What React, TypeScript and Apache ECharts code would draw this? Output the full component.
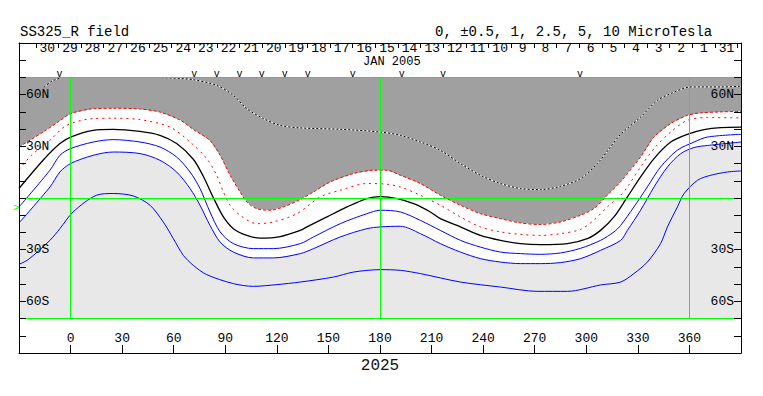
import React, { useEffect, useRef } from "react";
import * as echarts from "echarts";

const FONT = '"Liberation Mono", "DejaVu Sans Mono", monospace';

// axes
const LON_MIN = -30;
const LON_MAX = 390;
const LAT_MIN = -90;
const LAT_MAX = 90;
const MAP_LAT = 70;
const LON_LABEL_MIN = 0;
const LON_LABEL_MAX = 360;
const LAT_LABEL_VALUES = [60, 30, -30, -60];
const LAT_LABEL_TEXTS = ["60N", "30N", "30S", "60S"];

// green reference lines
const GRID_LONS = [0, 180, 360];
const GRID_LATS = [70, 0, -70];

// top day scale (Carrington rotation 2025, Jan 2005)
const DAY_LABELS = ["30", "29", "28", "27", "26", "25", "24", "23", "22", "21", "20", "19", "18", "17", "16", "15",
  "14", "13", "12", "11", "10", "9", "8", "7", "6", "5", "4", "3", "2", "1", "31"];
const DAY_START_OFFSETS = [29, 28, 27, 26, 25, 24, 23, 22, 21, 20, 19, 18, 17, 16, 15, 14,
  13, 12, 11, 10, 9, 8, 7, 6, 5, 4, 3, 2, 1, 0, -1];
const JAN1_LON = 375.0;
const DEG_PER_DAY = 13.17;

// observation marks along top, Earth latitude marker
const OBS_MARK_LONS = [-6.5, 72, 85, 98.3, 111.2, 124.6, 138, 164.2, 192.7, 216.6, 296.4];
const OBS_MARK_LAT = 71.6;
const EARTH_MARK = [-31.6, -5.8];

// contours [lon, lat]
const POS_1 = [[-30, 29.6], [-16, 38.3], [-6, 45], [0, 49], [13, 51.8], [25, 52.1], [40, 51.7], [52, 49.9], [64, 45.1],
  [71.4, 39.8], [81, 33.5], [87, 24.8], [92.8, 13.2], [98.6, 3.5], [102.5, -2.3], [108.3, -6.2], [116, -7.1],
  [123.8, -5.2], [133.6, -0.9], [141.3, 3.5], [151, 9.3], [164.6, 14.2], [176.3, 16.1], [184.1, 16.1], [191.8, 13.2],
  [203.5, 8.4], [215.1, 1.6], [226.8, -4.2], [238.4, -9.1], [250.1, -12], [261.7, -14.5], [273.4, -15.4], [285, -13.9],
  [296.7, -10], [304.4, -6.2], [312.2, 1.6], [320, 9.5], [331.6, 23.8], [339.4, 35.4], [349.1, 43.2], [358.8, 48],
  [366.6, 49.4], [378.3, 50], [390, 50.3]];

const POS_05 = [[-30, 16.5], [-22.7, 24.8], [-12, 33.5], [-2.3, 42.2], [13.2, 46.1], [24.8, 46.3], [40.4, 45.5],
  [57.8, 41.2], [69.5, 32.5], [79.2, 22.9], [85, 13.2], [88.9, 3.5], [92.8, -4.2], [98.6, -10], [108.3, -14.9],
  [118, -13.9], [131.6, -9.1], [145.2, 0.6], [156.9, 4.5], [172.4, 8.4], [184.1, 8], [191.8, 6.4], [203.5, 1.6],
  [215.1, -4.2], [226.8, -11], [238.4, -16.8], [250.1, -19.7], [261.7, -21.1], [273.4, -21.7], [285, -20.7],
  [296.7, -18.2], [304.4, -12.9], [312.2, -5.2], [320, 1.6], [323.9, 6.4], [331.6, 18], [339.4, 28.7], [349.1, 38.3],
  [358.8, 45.1], [370.5, 46.7], [390, 46.5]];

const NEUTRAL = [[-30, 5.5], [-16, 21.9], [-6.2, 31.6], [0, 35.4], [13.2, 39.3], [24.8, 39.9], [40.4, 38.7], [52, 36.4],
  [61.7, 31.6], [71.4, 22.5], [77.2, 12.6], [83.1, 0.1], [88.9, -11], [94.7, -17.8], [102.5, -21.7], [110.3, -23.3],
  [121.9, -22.4], [133.6, -18.8], [137.5, -16.8], [149.1, -11], [160.8, -5.2], [172.4, -0.3], [180.2, 0.8], [190, -0.3],
  [199.6, -3.3], [209.3, -8.1], [215.1, -12], [226.8, -16.8], [238.4, -21.7], [250.1, -24.6], [261.7, -26.5],
  [273.4, -27.1], [289, -26.5], [300.6, -23.6], [308.3, -18.8], [316.1, -11], [323.9, 0.6], [331.6, 12.2],
  [339.4, 22.9], [349.1, 32.5], [358.8, 37], [368.5, 39.7], [378.3, 40.9], [390, 41.2]];

const NEG_05 = [[-30, -5.2], [-12, 16.1], [-6.2, 24.8], [0, 28.7], [13.2, 32.5], [24.8, 33.9], [40.4, 32.5], [52, 29.6],
  [61.7, 23.8], [69.5, 15.1], [75.3, 5.5], [81.1, -8.1], [87, -19.7], [94.7, -26.5], [106.4, -29.4], [118, -29.4],
  [133.6, -26.5], [141.3, -22.6], [156.9, -14.9], [172.4, -9.1], [180.2, -7.1], [191.8, -8.1], [203.5, -13],
  [215.1, -18.8], [226.8, -24.6], [238.4, -28.5], [250.1, -31.4], [261.7, -32.3], [273.4, -32.7], [285, -31.9],
  [296.7, -29.2], [308.3, -24.6], [316.1, -19.7], [320, -15.9], [327.7, -5.2], [335.5, 6.4], [343.2, 18],
  [352.9, 27.7], [362.7, 32.5], [370.5, 35.4], [390, 37]];

const NEG_1 = [[-30, -14.5], [-12, 6.4], [-6.2, 15.1], [0, 20], [13.2, 24.8], [24.8, 26.7], [40.4, 25.8], [52, 21.9],
  [61.7, 15.1], [69.5, 5.5], [75.3, -4.2], [81.1, -15.9], [87, -25.6], [94.7, -31.4], [106.4, -34.8], [118, -34.8],
  [133.6, -32.3], [141.3, -29.4], [156.9, -22.6], [172.4, -17.8], [180.2, -16.8], [191.8, -16.4], [203.5, -20.7],
  [215.1, -26.5], [226.8, -31.4], [238.4, -35.2], [250.1, -37.2], [261.7, -38.1], [273.4, -38.1], [285, -37.5],
  [296.7, -35.2], [308.3, -30.4], [320, -24.6], [323.9, -18.8], [331.6, -7.1], [339.4, 6.4], [347.2, 18], [355, 25.8],
  [362.7, 29.3], [370.5, 30.5], [390, 32.5]];

const NEG_25 = [[-30, -38.5], [-24.7, -35.8], [-12, -24.6], [-6.2, -17.8], [1.5, -8.1], [15.1, 1.6], [24.8, 2.6],
  [36.5, 1.2], [46.2, -4.2], [53.9, -13.9], [59.8, -23.6], [65.6, -33.3], [71.4, -39.1], [79.2, -44.5], [94.7, -49.7],
  [106.4, -51.3], [120, -50.3], [133.6, -48.8], [153, -45.9], [164.6, -43], [180.2, -41.6], [191.8, -42],
  [203.5, -43.9], [226.8, -48.8], [250.1, -51.7], [271.5, -54.2], [289, -54.2], [308.3, -50.5], [320, -48.8],
  [327.7, -43.9], [335.5, -37.2], [343.2, -26.5], [347.2, -16.8], [353, -5.2], [356.9, 2.6], [364.7, 10.3],
  [372.4, 13.2], [382.1, 15.1], [390, 15.7]];

const POS_25_MAIN = [[53, 69.9], [70.5, 68.8], [85, 65.4], [94.7, 59.6], [102.5, 51.9], [112.2, 46.1], [121.9, 42.2],
  [133.6, 40.7], [156.9, 39.9], [180.2, 38.3], [191.8, 36.4], [203.5, 32.5], [215.1, 27.7], [226.8, 20], [238.4, 13.2],
  [250.1, 8.4], [261.7, 5.5], [273.4, 4.9], [285, 6.8], [296.7, 11.3], [306.4, 20], [314.1, 29.6], [320, 37],
  [331.6, 47], [341.4, 56.7], [349.1, 60.6], [360.8, 64.5], [378.3, 64.5], [390, 64.9]];
const POS_25_WEST = [[-15.5, 64.3], [-10.9, 67.8], [-5.2, 70]];

const COLORS = {
  positive: "#a0a0a0",
  negative: "#e8e8e8",
  green: "#00ff00",
  red: "#ff0000",
  blue: "#0000ff",
  black: "#000000",
};

function fillSeries(points: number[][], closeLat: number, color: string) {
  return {
    type: "custom",
    silent: true,
    z: 1,
    data: [[LON_MIN, closeLat]],
    renderItem: (_p: any, api: any) => {
      const pts = points.map((p) => api.coord(p));
      pts.push(api.coord([LON_MAX, closeLat]));
      pts.push(api.coord([LON_MIN, closeLat]));
      return { type: "polygon", shape: { points: pts }, style: { fill: color, stroke: null } };
    },
  };
}

function contour(points: number[][], color: string, type: any, width = 1, z = 3) {
  return {
    type: "line",
    data: points,
    symbol: "none",
    smooth: 0.3,
    silent: true,
    clip: true,
    z,
    lineStyle: { color, width, type },
  };
}

function textEl(x: number, y: number, text: string, font: string, fill: string, align = "center") {
  return {
    type: "text",
    x,
    y,
    style: {
      text,
      font,
      fill,
      align,
      verticalAlign: "middle",
      textAlign: align,
      textVerticalAlign: "middle",
    },
  };
}

export default function App() {
  const ref = useRef<HTMLDivElement>(null);

  useEffect(() => {
    if (!ref.current) return;
    const chart = echarts.init(ref.current, null, { renderer: "svg" });

    const dayTickOffsets: number[] = [];
    DAY_START_OFFSETS.forEach((o) => {
      if (!dayTickOffsets.includes(o)) dayTickOffsets.push(o);
      if (!dayTickOffsets.includes(o + 1)) dayTickOffsets.push(o + 1);
    });
    const dayTickLons = dayTickOffsets.map((o) => JAN1_LON - DEG_PER_DAY * o);
    const dayLabelLons = DAY_START_OFFSETS.map((o) => JAN1_LON - DEG_PER_DAY * (o + 0.5));

    const axisCommon = {
      splitLine: { show: false },
      z: 10,
    };

    const option: any = {
      animation: false,
      backgroundColor: "#ffffff",
      grid: { left: 19, top: 43, width: 722, height: 310, containLabel: false },
      title: [
        { text: "SS325_R field", left: 15, top: 20, textStyle: { fontFamily: FONT, fontSize: 14, fontWeight: "normal", color: "#000" } },
        { text: "0, ±0.5, 1, 2.5, 5, 10 MicroTesla", left: 430, top: 20, textStyle: { fontFamily: FONT, fontSize: 14, fontWeight: "normal", color: "#000" } },
      ],
      graphic: [
        textEl(380, 366, "2025", "normal 16px " + FONT, "#111"),
        textEl(363, 61.5, "JAN 2005", "12px " + FONT, "#000", "left"),
      ],
      xAxis: [
        {
          ...axisCommon,
          type: "value",
          position: "bottom",
          min: LON_MIN,
          max: LON_MAX,
          interval: 30,
          axisLine: { show: true, onZero: false, lineStyle: { color: "#000", width: 1 } },
          axisTick: { show: true, inside: true, length: 8, lineStyle: { color: "#000" } },
          axisLabel: {
            inside: true,
            margin: 8,
            color: "#000",
            fontFamily: FONT,
            fontSize: 13,
            showMinLabel: true,
            showMaxLabel: true,
            formatter: (v: number) => (v >= LON_LABEL_MIN && v <= LON_LABEL_MAX ? String(v) : ""),
          },
        },
        {
          ...axisCommon,
          type: "value",
          position: "top",
          min: LON_MIN,
          max: LON_MAX,
          axisLine: { show: true, onZero: false, lineStyle: { color: "#000", width: 1 } },
          axisTick: { show: false },
          axisLabel: { show: false },
        },
      ],
      yAxis: ["left", "right"].map((pos) => ({
        ...axisCommon,
        type: "value",
        position: pos,
        min: LAT_MIN,
        max: LAT_MAX,
        interval: 10,
        axisLine: { show: true, onZero: false, lineStyle: { color: "#000", width: 1 } },
        axisTick: { show: true, inside: true, length: 7, lineStyle: { color: "#000" } },
        axisLabel: {
          inside: true,
          margin: 7,
          color: "#000",
          fontFamily: FONT,
          fontSize: 13,
          formatter: (v: number) => {
            const i = LAT_LABEL_VALUES.indexOf(v);
            return i >= 0 ? LAT_LABEL_TEXTS[i] : "";
          },
        },
      })),
      series: [
        fillSeries(POS_1, MAP_LAT, COLORS.positive),
        fillSeries(NEG_1, -MAP_LAT, COLORS.negative),
        contour(POS_25_MAIN, "#ffffff", "solid", 1, 3),
        contour(POS_25_MAIN, COLORS.black, [2, 2], 1, 4),
        contour(POS_25_WEST, "#ffffff", "solid", 1, 3),
        contour(POS_25_WEST, COLORS.black, [2, 2], 1, 4),
        contour(POS_1, COLORS.red, [3, 2]),
        contour(POS_05, COLORS.red, [2, 4]),
        contour(NEUTRAL, COLORS.black, "solid", 1.3),
        contour(NEG_05, COLORS.blue, "solid"),
        contour(NEG_1, COLORS.blue, "solid"),
        contour(NEG_25, COLORS.blue, "solid"),
        {
          type: "custom",
          silent: true,
          z: 6,
          data: GRID_LONS.map((l) => [l, 0]),
          renderItem: (_p: any, api: any) => {
            const a = api.coord([api.value(0), -MAP_LAT]);
            const b = api.coord([api.value(0), MAP_LAT]);
            const x = Math.floor(a[0]) + 0.5;
            return { type: "line", shape: { x1: x, y1: Math.round(a[1]), x2: x, y2: Math.round(b[1]) }, style: { stroke: COLORS.green, lineWidth: 1 } };
          },
        },
        {
          type: "custom",
          silent: true,
          z: 6,
          data: GRID_LATS.map((l) => [0, l]),
          renderItem: (_p: any, api: any) => {
            const a = api.coord([LON_MIN, api.value(1)]);
            const b = api.coord([LON_MAX, api.value(1)]);
            const y = Math.floor(a[1]) + 0.5;
            return { type: "line", shape: { x1: a[0], y1: y, x2: b[0], y2: y }, style: { stroke: COLORS.green, lineWidth: 1 } };
          },
        },
        {
          type: "custom",
          silent: true,
          z: 7,
          data: dayTickLons.map((l) => [l, LAT_MAX]),
          renderItem: (_p: any, api: any) => {
            const p = api.coord([api.value(0), api.value(1)]);
            const x = Math.floor(p[0]) + 0.5;
            return { type: "line", shape: { x1: x, y1: p[1], x2: x, y2: p[1] + 5 }, style: { stroke: "#000", lineWidth: 1 } };
          },
        },
        {
          type: "custom",
          silent: true,
          z: 7,
          data: dayLabelLons.map((l) => [l, LAT_MAX]),
          renderItem: (params: any, api: any) => {
            const p = api.coord([api.value(0), api.value(1)]);
            return textEl(p[0], p[1] + 5.5, DAY_LABELS[params.dataIndex], "13px " + FONT, "#000");
          },
        },
        {
          type: "custom",
          silent: true,
          z: 7,
          data: OBS_MARK_LONS.map((l) => [l, OBS_MARK_LAT]),
          renderItem: (_p: any, api: any) => {
            const p = api.coord([api.value(0), api.value(1)]);
            return textEl(p[0], p[1], "v", "10px " + FONT, "#000");
          },
        },
        {
          type: "custom",
          silent: true,
          clip: false,
          z: 7,
          data: [EARTH_MARK],
          renderItem: (_p: any, api: any) => {
            const p = api.coord([api.value(0), api.value(1)]);
            return textEl(p[0], p[1], ">", "11px " + FONT, COLORS.green);
          },
        },
      ],
    };

    chart.setOption(option);
    return () => chart.dispose();
  }, []);

  return (
    <div
      ref={ref}
      style={{ position: "fixed", left: 0, top: 0, width: 763, height: 396, background: "#fff" }}
    />
  );
}
